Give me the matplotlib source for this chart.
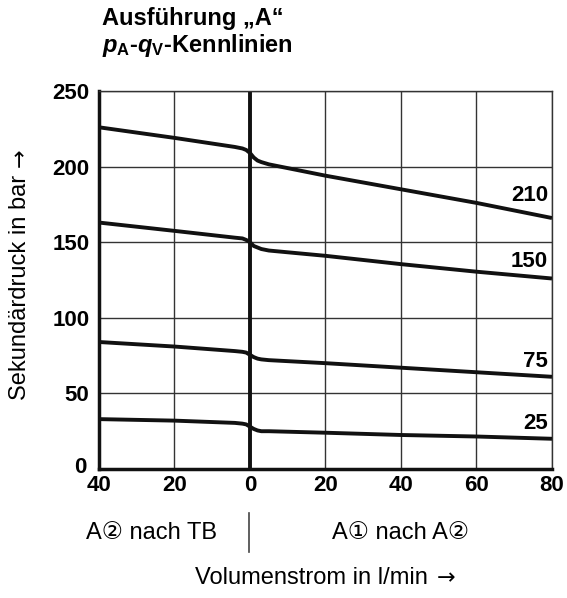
import matplotlib.pyplot as plt
import matplotlib.transforms as mtransforms
import numpy as np

plt.rcParams['mathtext.fontset'] = 'custom'
plt.rcParams['mathtext.it'] = 'Liberation Sans:italic:bold'
plt.rcParams['mathtext.bf'] = 'Liberation Sans:bold'
plt.rcParams['mathtext.rm'] = 'Liberation Sans:bold'

# flow in l/min (negative = A2 nach TB), pressure in bar
q = [-40, -20, -4, -2, -1, 0, 1, 2, 3, 5, 20, 40, 60, 80]
p210 = [226, 219, 213, 212, 211, 209, 206, 204, 203, 201.5, 194, 185, 176, 166]
p150 = [163, 157.5, 153, 152.5, 151.5, 150, 147.5, 146.5, 145.5, 144.5, 141, 135.5, 130.5, 126]
p75 = [84, 81, 78, 77.5, 77, 75.5, 74, 73, 72.5, 72, 70, 67, 64, 61]
p25 = [33, 32, 30.5, 30, 29.5, 28, 26.5, 25.5, 25, 25, 24, 22.5, 21.5, 20]
curves = [("210", p210, 181), ("150", p150, 137), ("75", p75, 71), ("25", p25, 30)]

xticks = [-40, -20, 0, 20, 40, 60, 80]
xticklabels = ["40", "20", "0", "20", "40", "60", "80"]
yticks = [0, 50, 100, 150, 200, 250]

numfont = dict(family=['Liberation Sans', 'DejaVu Sans'], fontweight='bold', fontsize=16)
txtfont = dict(family=['Liberation Sans', 'DejaVu Sans'], fontsize=17)

fig = plt.figure(figsize=(5.67, 5.98), dpi=100)
ax = fig.add_axes([0.1746, 0.2157, 0.7989, 0.6321])

ax.set_xlim(-40, 80)
ax.set_ylim(0, 250)
ax.set_xticks(xticks)
ax.set_yticks(yticks)
ax.set_xticklabels(xticklabels, **numfont)
ax.set_yticklabels([str(v) for v in yticks], **numfont)
ax.tick_params(length=0, pad=7)
ax.tick_params(axis='x', pad=4)
ax.grid(True, color='#333333', linewidth=1.0)
ax.set_axisbelow(True)
for s in ['top', 'right']:
    ax.spines[s].set_linewidth(1.0)
    ax.spines[s].set_color('#333333')
for s in ['left', 'bottom']:
    ax.spines[s].set_linewidth(2.5)
    ax.spines[s].set_color('#111111')
ax.axvline(0, color='#111111', linewidth=2.8, zorder=2)

# lift the "0" on the y axis a little, as in the original
zero = ax.get_yticklabels()[0]
zero.set_transform(zero.get_transform() + mtransforms.ScaledTranslation(-2 / 72, 3 / 72, fig.dpi_scale_trans))

for name, vals, ylab in curves:
    ax.plot(q, vals, color='#111111', linewidth=2.8, solid_capstyle='butt', zorder=3)
    ax.text(79, ylab, name, ha='right', va='center', **numfont)

# titles
fig.text(0.18, 0.958, "Ausführung „A“", ha='left', va='baseline',
         family=['Liberation Sans', 'DejaVu Sans'], fontweight='bold', fontsize=17)
fig.text(0.18, 0.913, r"$p_{\mathbf{A}}$-$q_{\mathbf{V}}$-Kennlinien", ha='left', va='baseline',
         family=['Liberation Sans', 'DejaVu Sans'], fontweight='bold', fontsize=17)

# axis labels with arrows
ylab = fig.text(0.036, 0.331, "Sekundärdruck in bar", rotation=90, ha='center', va='bottom', **txtfont)
ax.annotate("→", xy=(0.5, 1), xycoords=ylab, xytext=(0, 6), textcoords='offset points',
            rotation=90, ha='center', va='bottom', family='DejaVu Sans', fontsize=16,
            annotation_clip=False)
xlab = fig.text(0.344, 0.0334, "Volumenstrom in l/min", ha='left', va='center', **txtfont)
ax.annotate("→", xy=(1, 0.5), xycoords=xlab, xytext=(6, 0), textcoords='offset points',
            ha='left', va='center', family='DejaVu Sans', fontsize=16,
            annotation_clip=False)

fig.text(0.268, 0.109, "A② nach TB", ha='center', va='center',
         family=['Liberation Sans', 'DejaVu Sans', 'Noto Sans CJK JP'], fontsize=17)
fig.text(0.706, 0.109, "A① nach A②", ha='center', va='center',
         family=['Liberation Sans', 'DejaVu Sans', 'Noto Sans CJK JP'], fontsize=17)
fig.add_artist(plt.Line2D([0.439, 0.439], [0.077, 0.142], color='#444444', linewidth=1.2))

fig.savefig("out.png", dpi=100)
